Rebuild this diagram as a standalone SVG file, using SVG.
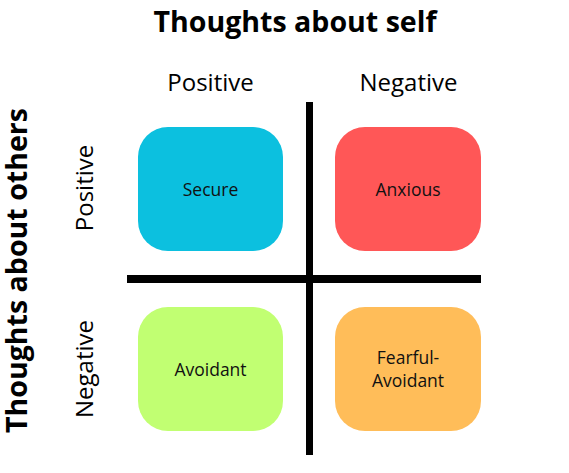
<svg xmlns="http://www.w3.org/2000/svg" width="569" height="473" viewBox="0 0 569 473">
<style>
.title{font-family:"Open Sans","Liberation Sans",sans-serif;font-weight:bold;font-size:28px;fill:#000}
.axis{font-family:"Open Sans","Liberation Sans",sans-serif;font-size:24px;fill:#000}
.lbl{font-family:"Open Sans","Liberation Sans",sans-serif;font-size:17.5px;fill:#111}
</style>
<rect width="569" height="473" fill="#fff"/>
<text class="title" x="295" y="32" text-anchor="middle" textLength="283" lengthAdjust="spacingAndGlyphs">Thoughts about self</text>
<text class="title" transform="translate(27,270.5) rotate(-90)" text-anchor="middle" textLength="325" lengthAdjust="spacingAndGlyphs">Thoughts about others</text>
<text class="axis" x="210.5" y="90.5" text-anchor="middle">Positive</text>
<text class="axis" x="408.5" y="90.5" text-anchor="middle">Negative</text>
<text class="axis" transform="translate(92.5,188) rotate(-90)" text-anchor="middle">Positive</text>
<text class="axis" transform="translate(92.5,369) rotate(-90)" text-anchor="middle">Negative</text>
<g id="connectors">
<rect x="306" y="102" width="7" height="353" fill="#000"/>
<rect x="127" y="275" width="354" height="8" fill="#000"/>
</g>
<g id="secure">
<rect x="138" y="127" width="145" height="124" rx="30" fill="#0CC0DF"/>
<text class="lbl" x="210.5" y="195.5" text-anchor="middle">Secure</text>
</g>
<g id="anxious">
<rect x="335" y="127" width="146" height="124" rx="30" fill="#FF5757"/>
<text class="lbl" x="408" y="195.5" text-anchor="middle">Anxious</text>
</g>
<g id="avoidant">
<rect x="138" y="307" width="145" height="124" rx="30" fill="#C1FF72"/>
<text class="lbl" x="210.5" y="375.5" text-anchor="middle">Avoidant</text>
</g>
<g id="fearful-avoidant">
<rect x="335" y="307" width="146" height="124" rx="30" fill="#FFBD59"/>
<text class="lbl" x="408" y="363.5" text-anchor="middle">Fearful-</text>
<text class="lbl" x="408" y="386.5" text-anchor="middle">Avoidant</text>
</g>
</svg>
